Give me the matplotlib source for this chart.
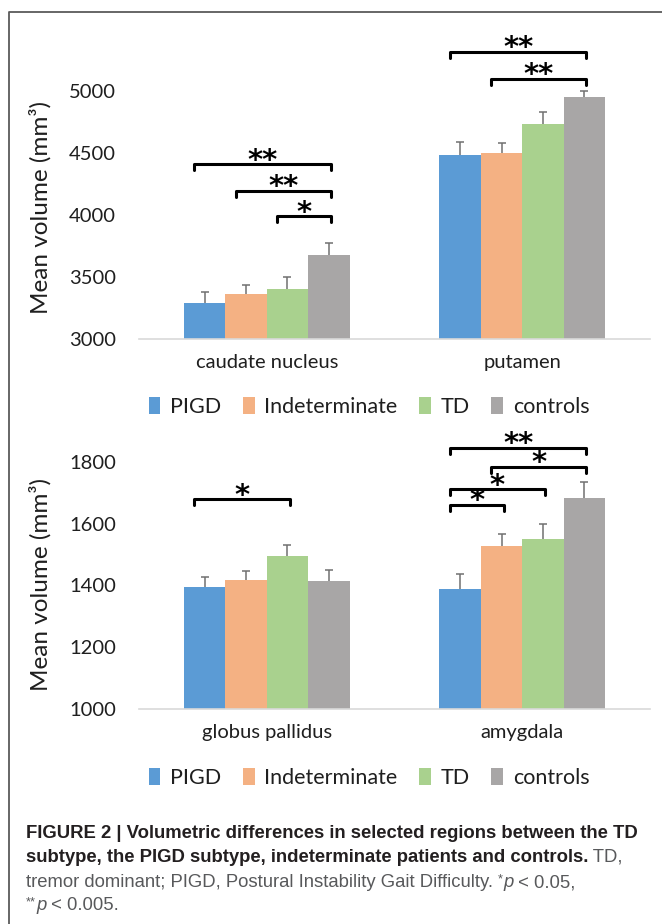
import matplotlib
matplotlib.use("Agg")
import matplotlib.pyplot as plt
import numpy as np
from matplotlib.lines import Line2D
from matplotlib import font_manager

# Data
groups = ["PIGD", "Indeterminate", "TD", "controls"]
colors = ["#5B9BD5", "#F4B183", "#A9D18E", "#A8A6A6"]

regions_top = ["caudate nucleus", "putamen"]
means_top = [[3288, 3360, 3401, 3675],   # caudate nucleus
             [4481, 4497, 4731, 4954]]   # putamen
errs_top = [[89, 75, 99, 97],
            [105, 81, 102, 46]]
# (region index, bar from, bar to, bracket height, label)
brackets_top = [(0, 0, 3, 4411, "**"), (0, 1, 3, 4194, "**"), (0, 2, 3, 3992, "*"),
                (1, 0, 3, 5315, "**"), (1, 1, 3, 5097, "**")]

regions_bot = ["globus pallidus", "amygdala"]
means_bot = [[1395, 1417, 1495, 1414],   # globus pallidus
             [1388, 1527, 1550, 1683]]   # amygdala
errs_bot = [[32, 29, 36, 36],
            [49, 39, 49, 51]]
brackets_bot = [(0, 0, 2, 1679, "*"), (1, 0, 3, 1846, "**"), (1, 1, 3, 1785, "*"),
                (1, 0, 2, 1712, "*"), (1, 0, 1, 1661, "*")]

W, H = 662, 924
plt.rcParams['font.family'] = ['Lato', 'DejaVu Sans']
fig = plt.figure(figsize=(W / 100, H / 100), dpi=100)
fig.patch.set_facecolor("white")

bw = 0.162
offsets = (np.arange(4) - 1.5) * bw
txt_col = "#1f1f1f"


def draw_panel(ax, regions, means, errs, brackets, ylim, yticks, tick_len, legend_y):
    x = np.arange(len(regions))
    for i in range(4):
        vals = np.array([m[i] for m in means], dtype=float)
        up = [e[i] for e in errs]
        _, caps, _ = ax.errorbar(x + offsets[i], vals, yerr=[np.zeros(len(up)), up],
                                 fmt="none", ecolor="#707070", elinewidth=1.1,
                                 capsize=3, capthick=1.1, zorder=1)
        # only the upper whisker has a cap
        for c in caps:
            if np.allclose(c.get_ydata(), vals):
                c.set_visible(False)
        ax.bar(x + offsets[i], vals, bw, color=colors[i], label=groups[i], zorder=2)
    ax.set_ylim(*ylim)
    ax.set_xlim(-0.5, len(regions) - 0.5)
    ax.set_yticks(yticks)
    ax.set_xticks(x)
    ax.set_xticklabels(regions)
    ax.tick_params(axis="y", length=0, pad=16.5, labelsize=14.5, labelcolor=txt_col)
    ax.tick_params(axis="x", length=0, pad=11, labelsize=14.5, labelcolor=txt_col)
    for s in ["top", "right", "left"]:
        ax.spines[s].set_visible(False)
    ax.spines["bottom"].set_color("#d9d9d9")
    ax.spines["bottom"].set_linewidth(1.2)
    ax.set_ylabel("Mean volume (mm³)", fontsize=17.5, color=txt_col)

    for g, a, b, h, lab in brackets:
        xl = g + offsets[a] - 0.25 * bw
        xr = g + offsets[b] + 0.05 * bw
        ax.plot([xl, xl, xr, xr], [h - tick_len, h, h, h - tick_len], color="black",
                lw=2.2, solid_joinstyle="round", solid_capstyle="round", clip_on=False,
                zorder=3)
        ax.annotate(lab, ((xl + xr) / 2, h), xytext=(0, 2.5), textcoords="offset points",
                    ha="center", va="center", fontsize=21, family="DejaVu Sans",
                    weight="bold", annotation_clip=False)

    ax.legend(loc="center", bbox_to_anchor=(0.45, legend_y),
              ncol=4, frameon=False, fontsize=15.5, handlelength=0.55, handleheight=0.8,
              handletextpad=0.45, columnspacing=1.0, labelcolor=txt_col)


ax1 = fig.add_axes([139 / W, 1 - 339 / H, 511 / W, 310 / H])
draw_panel(ax1, regions_top, means_top, errs_top, brackets_top, (3000, 5500),
           [3000, 3500, 4000, 4500, 5000], 48, -0.22)
ax1.yaxis.set_label_coords(-0.172, 0.424)

ax2 = fig.add_axes([139 / W, 1 - 709 / H, 511 / W, 278 / H])
draw_panel(ax2, regions_bot, means_bot, errs_bot, brackets_bot, (1000, 1900),
           [1000, 1200, 1400, 1600, 1800], 20, -0.248)
ax2.yaxis.set_label_coords(-0.172, 0.448)

# frame around the figure
fig.add_artist(Line2D([9 / W, 9 / W, 1.0], [0.0, 1 - 11.7 / H, 1 - 11.7 / H],
                      transform=fig.transFigure, color="#5a5a5a", lw=1.3))

# caption
names = {f.name for f in font_manager.fontManager.ttflist}
cap_font = "Liberation Sans Narrow" if "Liberation Sans Narrow" in names else "Liberation Sans"
renderer = fig.canvas.get_renderer()
bold_col, reg_col = "#231f20", "#58595b"
cap_size = 13.3

caption_lines = [
    [("FIGURE 2 | Volumetric differences in selected regions between the TD", "b")],
    [("subtype, the PIGD subtype, indeterminate patients and controls.", "b"), (" TD,", "r")],
    [("tremor dominant; PIGD, Postural Instability Gait Difficulty. ", "r"), ("*", "s"),
     ("p", "i"), (" < 0.05,", "r")],
    [("**", "s"), ("p", "i"), (" < 0.005.", "r")],
]
baselines = [838, 862, 887, 910]

for line, yb in zip(caption_lines, baselines):
    xp = 26
    for txt, st in line:
        kw = dict(fontsize=cap_size, family=cap_font, color=reg_col, va="baseline", ha="left")
        yy = yb
        if st == "b":
            kw.update(weight="bold", color=bold_col)
        elif st == "i":
            kw.update(style="italic")
        elif st == "s":
            kw.update(fontsize=cap_size * 0.7)
            yy = yb - 5
        t = fig.text(xp / W, 1 - yy / H, txt, **kw)
        xp += t.get_window_extent(renderer).width

fig.savefig("out.png", dpi=100, facecolor="white")
